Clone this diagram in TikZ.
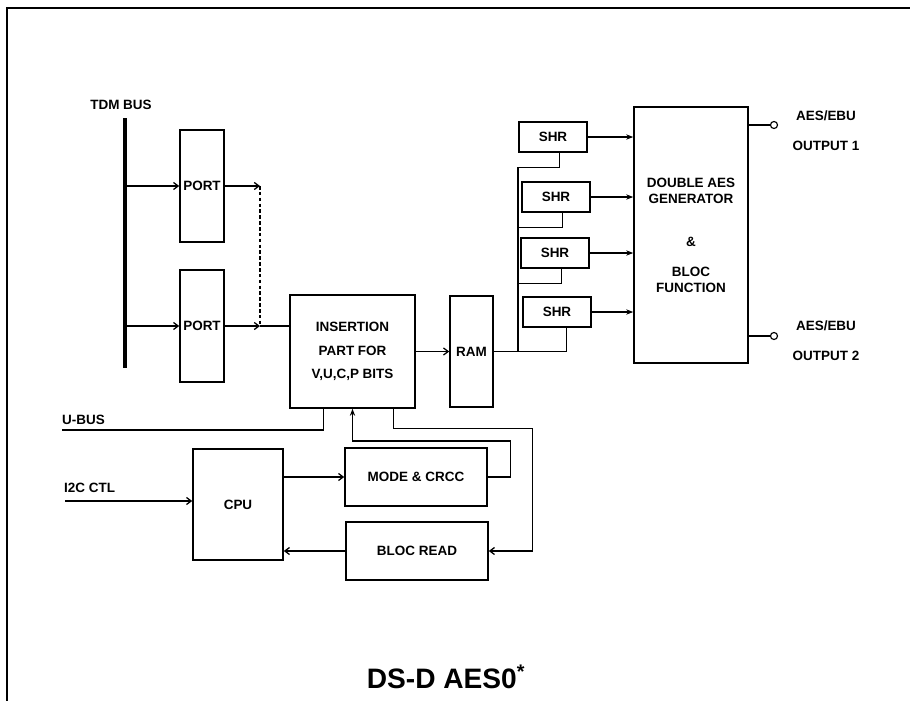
\documentclass[tikz,border=0pt]{standalone}
\usepackage{fontspec}
\setmainfont{Liberation Sans}
\usetikzlibrary{calc, arrows.meta}

\tikzset{
  blk/.style={draw, line width=1.3pt, inner sep=0pt, align=center},
  wire/.style={line width=1.1pt},
  barb/.style={-{Straight Barb[length=4pt,width=6pt]}},
}

\begin{document}
\begin{tikzpicture}[>={Stealth[length=6pt,width=4.5pt]}, x=0.03cm, y=-0.03cm, font=\fontsize{11.5}{14}\selectfont\bfseries]
  \useasboundingbox (0,0) rectangle (910,701);
  % frame (left and top only)
  \draw[line width=1.2pt] (7,701) -- (7,8) -- (910,8);

  % TDM bus and the two ports
  \node (tdm) at (121,105) {TDM BUS};
  \coordinate (bustop) at (125,118);
  \coordinate (busbot) at (125,368);
  \draw[line width=3pt] (bustop) -- (busbot);
  \node[blk, minimum width=1.32cm, minimum height=3.36cm] (port1) at (202,186) {PORT};
  \node[blk, minimum width=1.32cm, minimum height=3.36cm] (port2) at (202,326) {PORT};
  \draw[wire,barb] (port1.west -| bustop) -- (port1.west);
  \draw[wire,barb] (port2.west -| bustop) -- (port2.west);

  % insertion part and RAM
  \node[blk, minimum width=3.75cm, minimum height=3.39cm,
        font=\fontsize{11.5}{20}\selectfont\bfseries] (ins) at (352.5,351.5) {INSERTION\\PART FOR\\V,U,C,P BITS};
  \node[blk, minimum width=1.29cm, minimum height=3.33cm] (ram) at (471.5,351.5) {RAM};
  % ports join before the insertion part
  \coordinate (j1) at (260,186);
  \coordinate (j2) at (260,326);
  \draw[wire,barb] (port1.east) -- (j1);
  \draw[wire,densely dashed] (j1) -- (j2);
  \draw[wire,barb] (port2.east) -- (j2);
  \draw[wire] (j2) -- (j2 -| ins.west);
  \draw[wire,barb] (ins.east) -- (ram.west);

  % shift registers and generator
  \foreach \i/\x/\y in {1/553/137, 2/556/197, 3/555/253, 4/557/312}
    \node[blk, minimum width=2.04cm, minimum height=0.9cm] (shr\i) at (\x,\y) {SHR};
  \node[blk, minimum width=3.42cm, minimum height=7.68cm,
        font=\fontsize{11.5}{13.6}\selectfont\bfseries] (gen) at (691,235)
       {DOUBLE AES\\GENERATOR\\[23pt]\&\\[12pt]BLOC\\FUNCTION};
  \coordinate (split) at (518,351.5);
  \draw[wire] (ram.east) -- (split);
  \foreach \i in {1,2,3}
    \draw[wire] ([xshift=0.2cm]shr\i.south) -- ++(0,15) -| (split);
  \draw[wire] ([xshift=0.28cm]shr4.south) |- (split);
  \foreach \i in {1,...,4}
    \draw[wire,->] (shr\i.east) -- (shr\i.east -| gen.west);

  % outputs
  \node[circle, draw, line width=1pt, inner sep=0pt, minimum size=6pt] (out1) at (774,125) {};
  \node[circle, draw, line width=1pt, inner sep=0pt, minimum size=6pt] (out2) at (774,336) {};
  \draw[wire] (gen.east |- out1) -- (out1);
  \draw[wire] (gen.east |- out2) -- (out2);
  \node[align=center, font=\fontsize{11.5}{26}\selectfont\bfseries] (txt1) at (826,130.5) {AES/EBU\\OUTPUT 1};
  \node[align=center, font=\fontsize{11.5}{26}\selectfont\bfseries] (txt2) at (826,340.5) {AES/EBU\\OUTPUT 2};

  % control part
  \node[blk, minimum width=2.7cm, minimum height=3.33cm] (cpu) at (238,504.5) {CPU};
  \node[blk, minimum width=4.26cm, minimum height=1.74cm] (mode) at (416,477) {MODE \& CRCC};
  \node[blk, minimum width=4.26cm, minimum height=1.74cm] (bloc) at (417,551) {BLOC READ};

  \node[anchor=west] (ubuslbl) at (58,420) {U-BUS};
  \coordinate (ubus) at (62,430);
  \draw[wire] (ubus) -| ($(ins.south west)+(34,0)$);
  \node[anchor=west] (i2clbl) at (60,488) {I2C CTL};
  \coordinate (i2c) at (65,501);
  \draw[wire,barb] (i2c) -- (i2c -| cpu.west);

  \draw[wire,barb] (cpu.east |- mode.west) -- (mode.west);
  \draw[wire,barb] (bloc.west) -- (bloc.west -| cpu.east);
  \draw[wire,->] (mode.east) -- ++(23,0) -- ++(0,-36) -| (ins.south);
  \draw[wire,barb] ($(ins.south west)+(104,0)$) -- ++(0,20) -| ($(bloc.east)+(44,0)$) -- (bloc.east);

  % title
  \node[font=\fontsize{24}{28}\selectfont\bfseries] (title) at (446,677) {DS-D AES0\textsuperscript{*}};
\end{tikzpicture}
\end{document}
